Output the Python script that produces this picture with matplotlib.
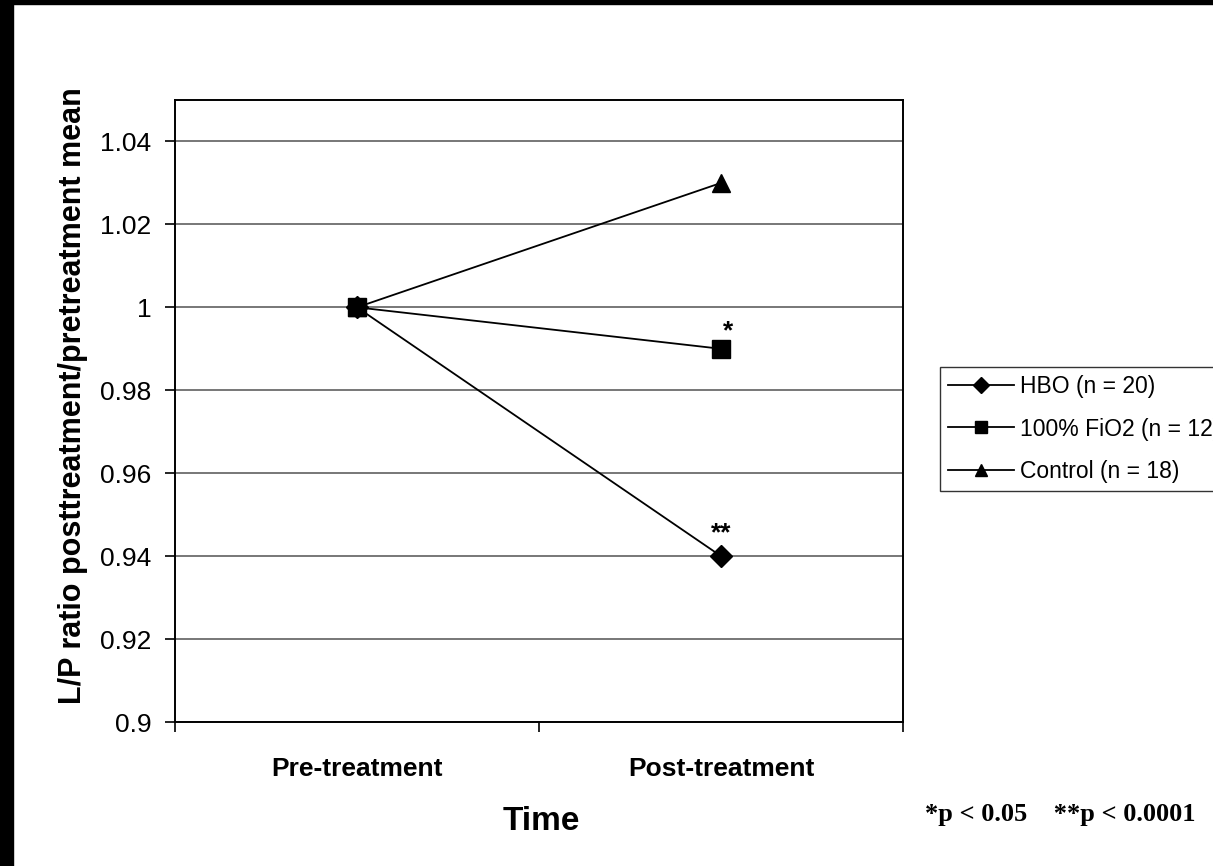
"""L/P ratio post/pre treatment by group, Excel-style line chart."""
import matplotlib
matplotlib.use("Agg")
import matplotlib.pyplot as plt
from matplotlib.patches import Rectangle

# ---------------------------------------------------------------------------
# Data
# ---------------------------------------------------------------------------
categories = ["Pre-treatment", "Post-treatment"]
series_names = ["HBO (n = 20)", "100% FiO2 (n = 12)", "Control (n = 18)"]
hbo = [1.00, 0.94]
fio2 = [1.00, 0.99]
control = [1.00, 1.03]
y_ticks = [0.9, 0.92, 0.94, 0.96, 0.98, 1.0, 1.02, 1.04]
y_tick_labels = ["0.9", "0.92", "0.94", "0.96", "0.98", "1", "1.02", "1.04"]
# significance marks on the post-treatment values
sig_marks = {"HBO (n = 20)": "**", "100% FiO2 (n = 12)": "*"}

W, H = 1213, 866
fig = plt.figure(figsize=(W / 100, H / 100), dpi=100)
fig.patch.set_facecolor("white")

# black frame pieces (top and left edge of the slide)
fig.patches.append(Rectangle((0, 1 - 4 / H), 1, 4 / H, transform=fig.transFigure,
                             color="black", zorder=0))
fig.patches.append(Rectangle((0, 0), 13 / W, 1, transform=fig.transFigure,
                             color="black", zorder=0))

ax = fig.add_axes([175 / W, 1 - 722 / H, (903 - 175) / W, (722 - 100) / H])

x = list(range(len(categories)))
styles = [("D", 11), ("s", 13), ("^", 13)]
values = [hbo, fio2, control]
handles = []
for name, vals, (mk, ms) in zip(series_names, values, styles):
    ln, = ax.plot(x, vals, color="black", lw=1.3, marker=mk, markersize=ms,
                  markerfacecolor="black", markeredgecolor="black", label=name, zorder=3)
    handles.append(ln)
    if name in sig_marks:
        single = len(sig_marks[name]) == 1
        ax.text(x[-1] + (0.02 if single else 0.0),
                vals[-1] + (0.0014 if single else 0.0025), sig_marks[name],
                ha="center", va="bottom",
                fontsize=19, family="Liberation Sans", fontweight="bold")

ax.set_xlim(-0.5, 1.5)
ax.set_ylim(0.9, 1.05)
ax.set_yticks(y_ticks)
ax.set_yticklabels(y_tick_labels)
ax.set_xticks([-0.5, 0.5, 1.5])
ax.set_xticklabels([])
ax.set_xticks(x, minor=True)
ax.set_xticklabels(categories, minor=True, fontweight="bold")
ax.tick_params(axis="x", which="minor", length=0, pad=25, labelsize=19)
ax.tick_params(axis="x", which="major", direction="out", length=7, width=1.2)
ax.tick_params(axis="y", direction="out", length=7, width=1.2, labelsize=19, pad=10)
for lbl in ax.get_xticklabels(minor=True) + ax.get_yticklabels():
    lbl.set_family("Liberation Sans")

ax.grid(axis="y", color="#606060", lw=1.2)
ax.set_axisbelow(True)
for s in ax.spines.values():
    s.set_linewidth(1.4)
    s.set_color("black")

ax.set_ylabel("L/P ratio posttreatment/pretreatment mean", fontsize=22,
              fontweight="bold", family="Liberation Sans")
ax.yaxis.set_label_coords(-0.119, 0.524)
fig.text(541 / W, 1 - 822 / H, "Time", ha="center", va="center", fontsize=24,
         fontweight="bold", family="Liberation Sans")
fig.text(925 / W, 1 - 815 / H, "*p < 0.05    **p < 0.0001", ha="left", va="center",
         fontsize=19, fontweight="bold", family="Liberation Serif")

# legend runs past the right edge of the picture, as in the original
leg = fig.legend(handles=handles, loc="upper left", bbox_to_anchor=(940 / W, 1 - 367 / H),
                 frameon=True, fancybox=False, edgecolor="black",
                 prop={"family": "Liberation Sans", "size": 16.5},
                 handlelength=2.9, handletextpad=0.25, borderpad=0.35,
                 labelspacing=0.85, borderaxespad=0)
leg.get_frame().set_linewidth(1.0)
for h in leg.legend_handles:
    h.set_markersize(8)

fig.savefig("out.png", dpi=100)
